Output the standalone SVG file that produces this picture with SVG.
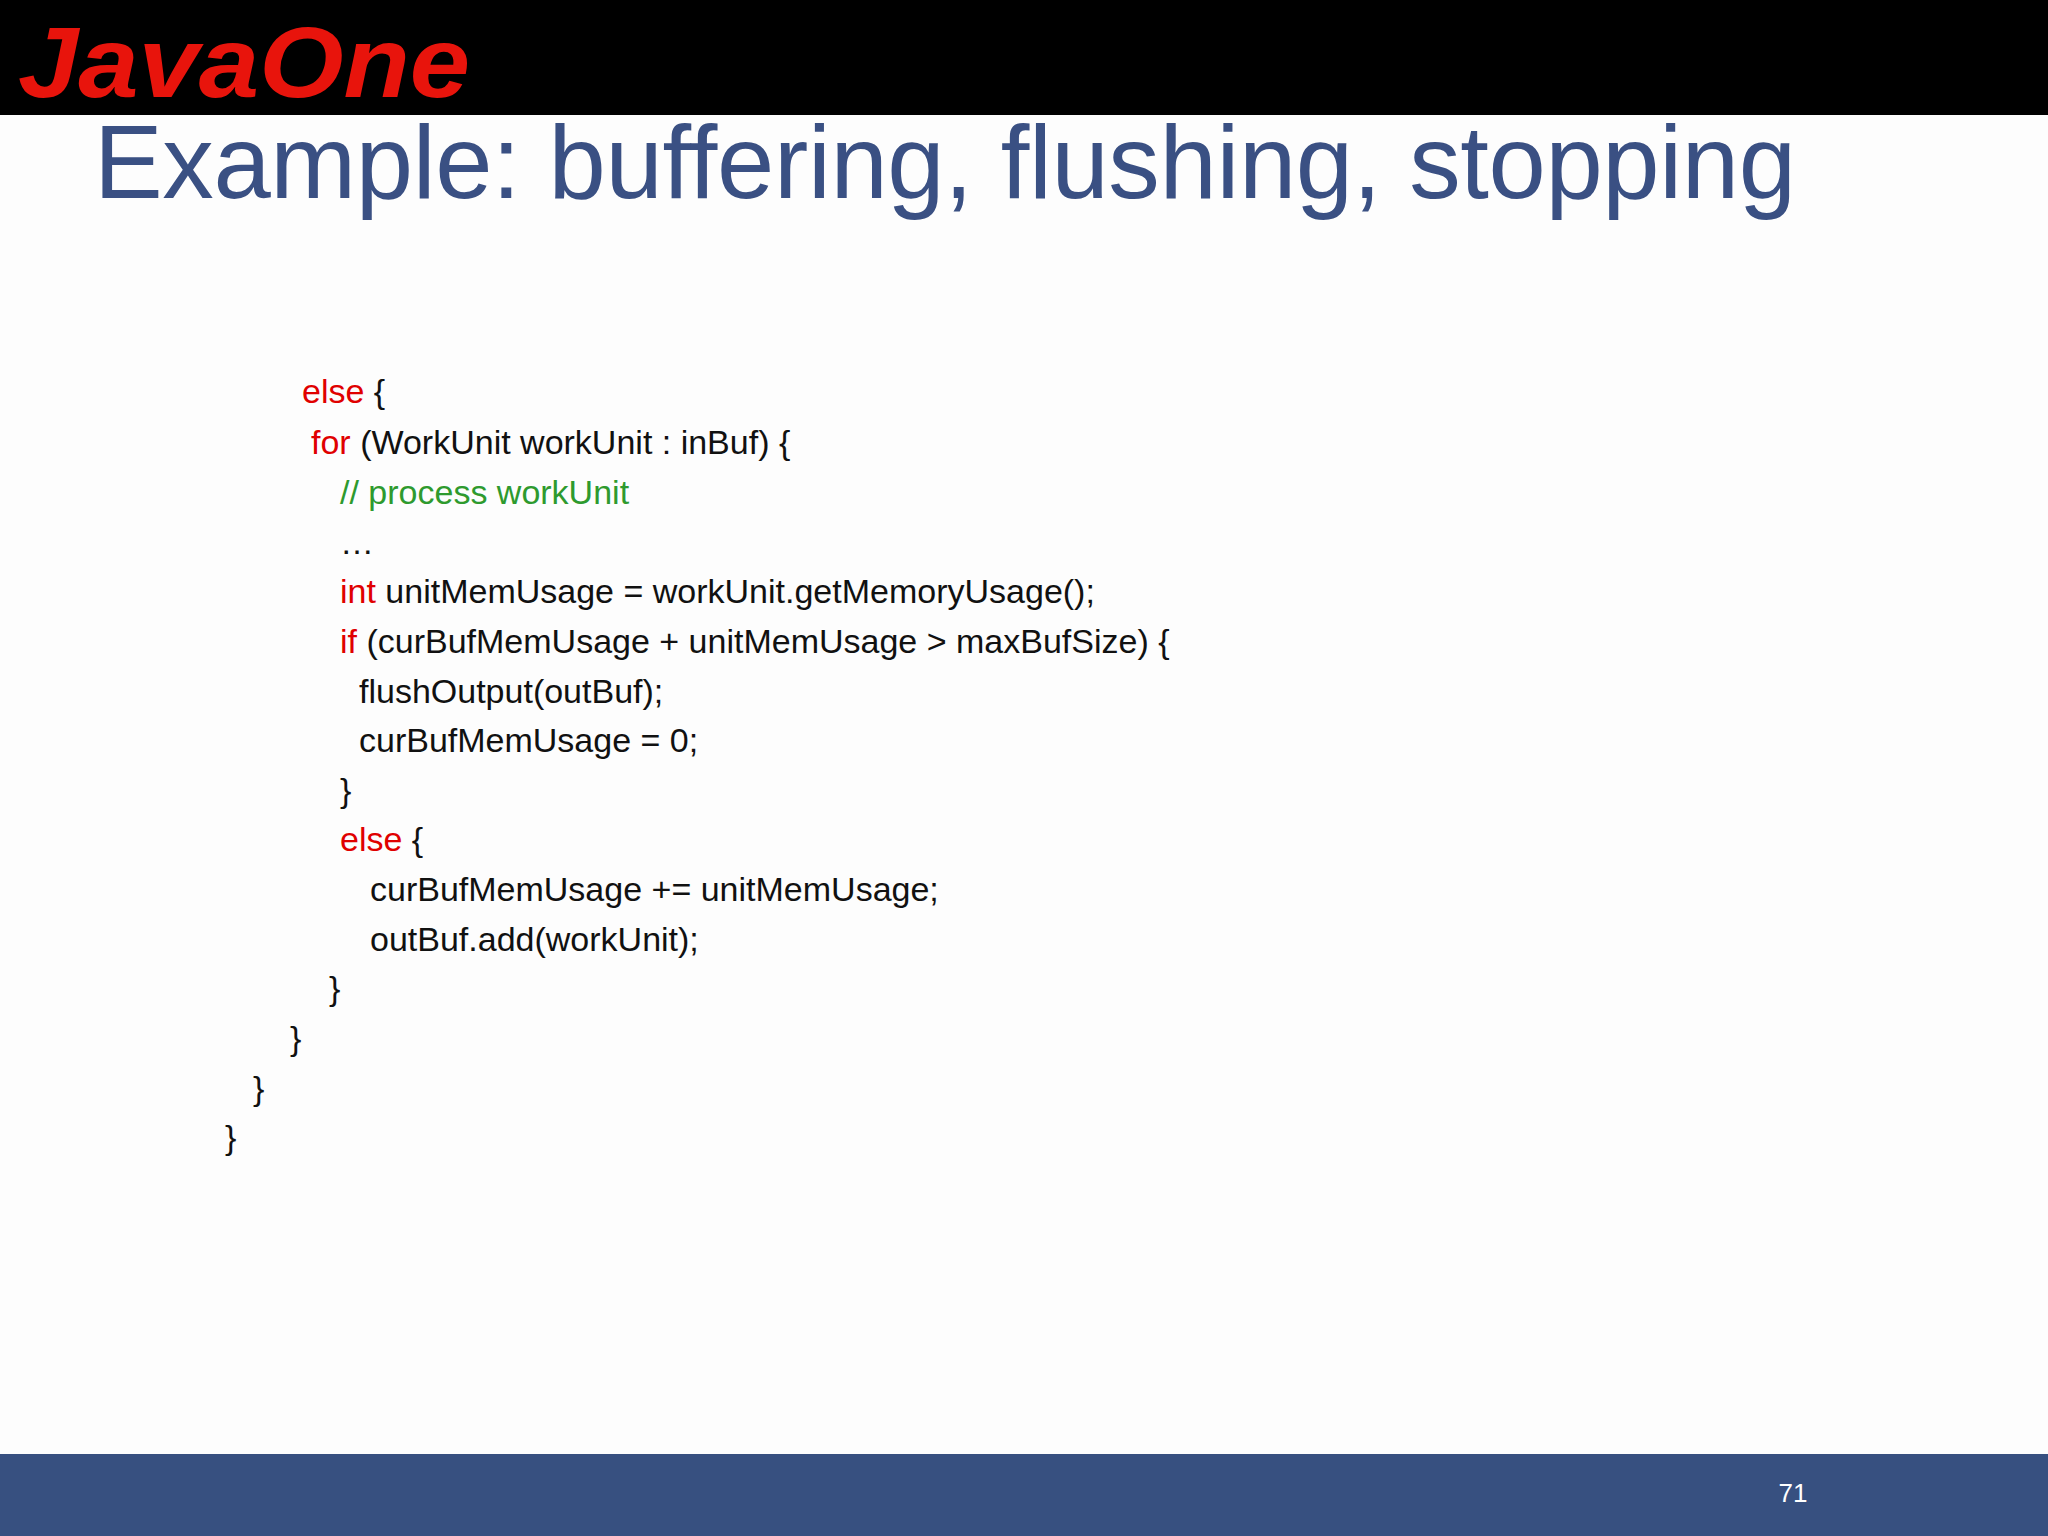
<svg xmlns="http://www.w3.org/2000/svg" width="2048" height="1536" viewBox="0 0 2048 1536">
<style>
.c{font-family:"Liberation Sans",Arial,sans-serif;font-size:34px;fill:#111}
.k{fill:#e00000}
.g{fill:#2e9a2e}
</style>
<rect width="2048" height="1536" fill="#fdfdfd"/>
<g id="header">
<rect x="0" y="0" width="2048" height="115" fill="#000"/>
<text x="18" y="97" font-family="Liberation Sans,Arial,sans-serif" font-weight="bold" font-style="italic" font-size="100" fill="#e8140c" textLength="452" lengthAdjust="spacingAndGlyphs">JavaOne</text>
</g>
<g id="title">
<text x="94" y="198" font-family="Liberation Sans,Arial,sans-serif" font-size="103" fill="#3a5083" textLength="1702">Example: buffering, flushing, stopping</text>
</g>
<g id="code">
<text class="c" x="302" y="403"><tspan class="k">else</tspan> {</text>
<text class="c" x="311" y="454"><tspan class="k">for</tspan> (WorkUnit workUnit : inBuf) {</text>
<text class="c g" x="340" y="504">// process workUnit</text>
<text class="c" x="340" y="554">…</text>
<text class="c" x="340" y="603"><tspan class="k">int</tspan> unitMemUsage = workUnit.getMemoryUsage();</text>
<text class="c" x="340" y="653"><tspan class="k">if</tspan> (curBufMemUsage + unitMemUsage &gt; maxBufSize)  {</text>
<text class="c" x="359" y="703">flushOutput(outBuf);</text>
<text class="c" x="359" y="752">curBufMemUsage = 0;</text>
<text class="c" x="340" y="802">}</text>
<text class="c" x="340" y="851"><tspan class="k">else</tspan> {</text>
<text class="c" x="370" y="901">curBufMemUsage += unitMemUsage;</text>
<text class="c" x="370" y="951">outBuf.add(workUnit);</text>
<text class="c" x="329" y="1000">}</text>
<text class="c" x="290" y="1050">}</text>
<text class="c" x="253" y="1100">}</text>
<text class="c" x="225" y="1149">}</text>
</g>
<g id="footer">
<rect x="0" y="1454" width="2048" height="82" fill="#375080"/>
<text x="1793" y="1502" text-anchor="middle" font-family="Liberation Sans,Arial,sans-serif" font-size="26" fill="#fff">71</text>
</g>
</svg>
